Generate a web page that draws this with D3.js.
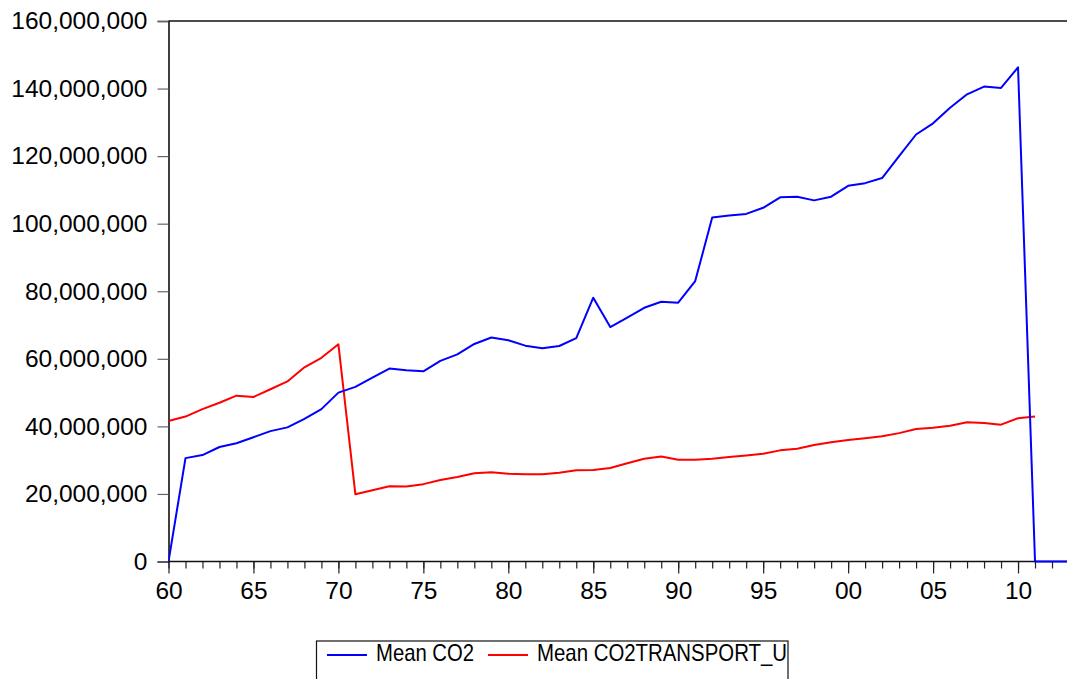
<!DOCTYPE html>
<html><head><meta charset="utf-8">
<script src="https://cdn.jsdelivr.net/npm/d3@7"></script>
<style>
html,body{margin:0;padding:0;background:#fff;overflow:hidden;}
svg{display:block;font-family:"Liberation Sans",Arial,sans-serif;}
</style></head>
<body>
<svg id="chart" width="1067" height="679"></svg>
<script>
const years = d3.range(1960, 2014);
const co2 = [0, 30.6, 31.5, 33.9, 35.0, 36.8, 38.6, 39.7, 42.2, 45.1,
  50.0, 51.7, 54.4, 57.1, 56.6, 56.3, 59.4, 61.3, 64.4, 66.3,
  65.5, 63.9, 63.1, 63.8, 66.1, 78.1, 69.4, 72.2, 75.1, 76.9,
  76.6, 83.0, 101.8, 102.4, 102.9, 104.7, 107.8, 108.0, 106.9, 108.0,
  111.2, 112.0, 113.5, 120.0, 126.4, 129.7, 134.3, 138.3, 140.6, 140.2,
  146.3, 0, 0, 0];
const co2Transport = [41.6, 42.9, 45.1, 47.0, 49.1, 48.7, 51.0, 53.3, 57.5, 60.3,
  64.3, 19.9, 21.1, 22.3, 22.2, 22.9, 24.1, 25.0, 26.1, 26.4,
  26.0, 25.8, 25.8, 26.3, 27.0, 27.1, 27.7, 29.1, 30.4, 31.1,
  30.1, 30.1, 30.4, 30.9, 31.4, 31.9, 32.9, 33.4, 34.5, 35.3,
  36.0, 36.5, 37.1, 38.0, 39.2, 39.6, 40.2, 41.2, 41.0, 40.5,
  42.4, 42.9, null, null];
const yTicks = [0, 20e6, 40e6, 60e6, 80e6, 100e6, 120e6, 140e6, 160e6];
const xLabelYears = [1960,1965,1970,1975,1980,1985,1990,1995,2000,2005,2010];
const seriesNames = ["Mean CO2", "Mean CO2TRANSPORT_U"];
const seriesColors = ["#0000ff", "#ff0000"];

const svg = d3.select("#chart");
const L = 168.5, R = 1069, T = 21, B = 561.5;
const x = d3.scaleLinear().domain([1960, 2013]).range([L, R]);
const y = d3.scaleLinear().domain([0, 160e6]).range([B, T]);

// frame top
svg.append("line").attr("x1", L).attr("x2", 1070).attr("y1", T).attr("y2", T)
  .attr("stroke", "#111").attr("stroke-width", 1.6);

// Y axis
const yAxis = d3.axisLeft(y).tickValues(yTicks).tickSize(11).tickPadding(10)
  .tickFormat(d3.format(",.0f"));
const gy = svg.append("g").attr("transform", `translate(${L},0)`).call(yAxis);
gy.select(".domain").attr("stroke", "#111").attr("stroke-width", 1.6);
gy.selectAll(".tick line").attr("stroke", "#666").attr("stroke-width", 1.2);
gy.selectAll(".tick text").attr("font-size", 24.5).attr("fill", "#000")
  .attr("font-family", "Liberation Sans, Arial, sans-serif");

// X axis minor ticks
const gxMinor = svg.append("g").attr("transform", `translate(0,${B})`)
  .call(d3.axisBottom(x).tickValues(d3.range(1960, 2014)).tickSize(7).tickFormat(""));
gxMinor.select(".domain").remove();
gxMinor.selectAll(".tick line").attr("stroke", "#222").attr("stroke-width", 1.2);

const gx = svg.append("g").attr("transform", `translate(0,${B})`)
  .call(d3.axisBottom(x).tickValues(xLabelYears).tickSize(12).tickPadding(8)
    .tickFormat(d => String(d % 100).padStart(2, "0")));
gx.select(".domain").attr("stroke", "#111").attr("stroke-width", 1.6)
  .attr("d", `M${L},0H1070`);
gx.selectAll(".tick line").attr("stroke", "#222").attr("stroke-width", 1.2);
gx.selectAll(".tick text").attr("font-size", 24.5).attr("fill", "#000")
  .attr("font-family", "Liberation Sans, Arial, sans-serif");

// lines
svg.append("clipPath").attr("id", "clip").append("rect")
  .attr("x", L).attr("y", T - 2).attr("width", R - L + 5).attr("height", B - T + 4);
const line = d3.line().defined(d => d[1] != null)
  .x(d => x(d[0])).y(d => y(d[1] * 1e6));
[[co2Transport, 1], [co2, 0]].forEach(([s, idx]) => {
  svg.append("path").datum(years.map((yr, k) => [yr, s[k]]))
    .attr("d", line).attr("fill", "none").attr("stroke", seriesColors[idx])
    .attr("stroke-width", 2).attr("stroke-linejoin", "round")
    .attr("clip-path", "url(#clip)");
});

// legend
const lg = svg.append("g");
lg.append("rect").attr("x", 316.5).attr("y", 641).attr("width", 471.5).attr("height", 60)
  .attr("fill", "#fff").attr("stroke", "#111").attr("stroke-width", 1.2);
const items = [{x1: 327, x2: 367, tx: 376, w: 98}, {x1: 488, x2: 528, tx: 537, w: 250}];
items.forEach((it, i) => {
  lg.append("line").attr("x1", it.x1).attr("x2", it.x2).attr("y1", 655).attr("y2", 655)
    .attr("stroke", seriesColors[i]).attr("stroke-width", 2);
  lg.append("text").attr("x", it.tx).attr("y", 661).attr("font-size", 24)
    .attr("textLength", it.w).attr("lengthAdjust", "spacingAndGlyphs")
    .attr("fill", "#000").text(seriesNames[i]);
});
</script>
</body></html>
